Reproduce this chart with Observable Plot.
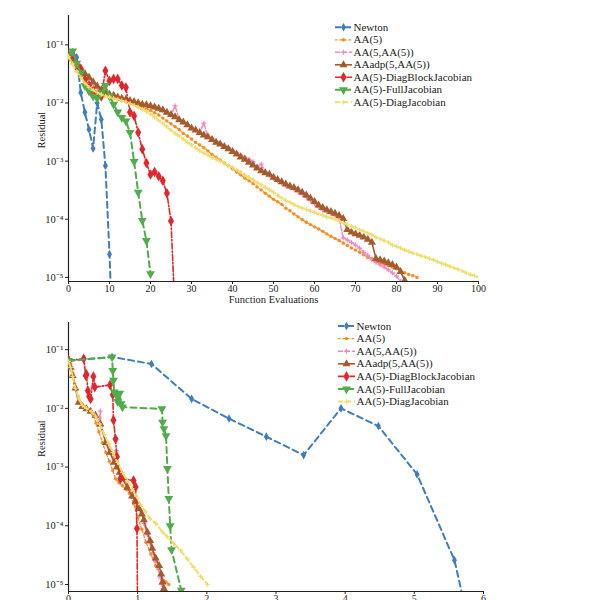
<!DOCTYPE html>
<html>
<head>
<meta charset="utf-8">
<script src="https://cdn.jsdelivr.net/npm/d3@7"></script>
<script src="https://cdn.jsdelivr.net/npm/@observablehq/plot@0.6"></script>
<style>
  html, body { margin: 0; padding: 0; background: #fff; overflow: hidden; }
  #charts { width: 598px; }
  #charts svg { display: block; }
</style>
</head>
<body>
<div id="charts"></div>
<script>
// ---- Solver names (legend order = drawing order) ----
const seriesNames = [
  "Newton", "AA(5)", "AA(5,AA(5))", "AAadp(5,AA(5))",
  "AA(5)-DiagBlockJacobian", "AA(5)-FullJacobian", "AA(5)-DiagJacobian"
];
const seriesColors = ["#3d7ebf", "#ff8a1e", "#f585c3", "#a65b2c", "#e3262b", "#50ad4a", "#f0dd6c"];

// ---- Residual after each function evaluation (evaluation 0, 1, 2, ...) ----
const newtonFE = [6.5e-2, 7.5e-2, 6.1e-2, 1.5e-2, 6.9e-3, 3.5e-3, 1.65e-3, 1.0e-2, 5.2e-3, 8.3e-4, 2.5e-5, 3.0e-7];
const aa5FE = [
  6.5e-2, 4.8e-2, 3.5e-2, 2.8e-2, 2.2e-2, 1.9e-2, 1.7e-2, 1.55e-2, 1.4e-2, 1.32e-2,
  1.26e-2, 1.2e-2, 1.15e-2, 1.1e-2, 1.05e-2, 1.0e-2, 9.5e-3, 9.1e-3, 8.5e-3, 7.9e-3,
  7.4e-3, 6.8e-3, 6.2e-3, 5.5e-3, 4.9e-3, 4.4e-3, 3.9e-3, 3.5e-3, 3.0e-3, 2.7e-3,
  2.4e-3, 2.1e-3, 1.9e-3, 1.7e-3, 1.5e-3, 1.3e-3, 1.17e-3, 1.05e-3, 9.3e-4, 8.3e-4,
  7.4e-4, 6.5e-4, 5.8e-4, 5.1e-4, 4.6e-4, 4.1e-4, 3.6e-4, 3.2e-4, 2.8e-4, 2.5e-4,
  2.2e-4, 2.0e-4, 1.8e-4, 1.55e-4, 1.4e-4, 1.23e-4, 1.1e-4, 9.8e-5, 8.9e-5, 8.1e-5,
  7.4e-5, 6.8e-5, 6.2e-5, 5.6e-5, 5.1e-5, 4.7e-5, 4.3e-5, 3.9e-5, 3.55e-5, 3.2e-5,
  2.95e-5, 2.7e-5, 2.45e-5, 2.2e-5, 2.1e-5, 1.95e-5, 1.8e-5, 1.7e-5, 1.6e-5, 1.5e-5,
  1.4e-5, 1.3e-5, 1.2e-5, 1.12e-5, 1.07e-5, 1.0e-5
];
const aa5aa5FE = [
  6.5e-2, 5.5e-2, 4.5e-2, 3.6e-2, 3.0e-2, 2.5e-2, 2.1e-2, 1.8e-2, 1.6e-2, 1.45e-2,
  1.38e-2, 1.32e-2, 1.25e-2, 1.2e-2, 1.15e-2, 1.1e-2, 1.05e-2, 1.0e-2, 9.5e-3, 9.2e-3,
  8.8e-3, 8.4e-3, 8.0e-3, 7.4e-3, 6.8e-3, 6.2e-3, 8.9e-3, 5.2e-3, 4.7e-3, 4.2e-3,
  3.7e-3, 3.4e-3, 3.1e-3, 4.5e-3, 2.6e-3, 2.4e-3, 2.2e-3, 2.0e-3, 1.85e-3, 1.7e-3,
  1.55e-3, 1.4e-3, 1.28e-3, 1.17e-3, 1.07e-3, 9.8e-4, 7.8e-4, 8.9e-4, 6.5e-4, 5.7e-4,
  5.0e-4, 4.6e-4, 4.2e-4, 3.8e-4, 3.5e-4, 3.3e-4, 3.0e-4, 2.7e-4, 2.4e-4, 2.1e-4,
  1.85e-4, 1.6e-4, 1.45e-4, 1.35e-4, 1.25e-4, 1.15e-4, 1.05e-4, 4.8e-5, 4.4e-5, 4.0e-5,
  3.6e-5, 3.2e-5, 2.7e-5, 2.4e-5, 2.0e-5, 1.8e-5, 1.65e-5, 1.5e-5, 1.35e-5, 1.2e-5,
  1.05e-5, 8.5e-6
];
const aaAdpFE = [
  6.8e-2, 5.75e-2, 4.8e-2, 3.8e-2, 3.2e-2, 2.75e-2, 2.3e-2, 1.95e-2, 1.7e-2, 1.5e-2,
  1.4e-2, 1.35e-2, 1.26e-2, 1.2e-2, 1.15e-2, 1.1e-2, 1.05e-2, 1.0e-2, 9.5e-3, 9.3e-3,
  8.9e-3, 8.5e-3, 8.1e-3, 7.6e-3, 6.9e-3, 6.3e-3, 5.75e-3, 5.1e-3, 4.7e-3, 4.2e-3,
  3.7e-3, 3.4e-3, 3.1e-3, 2.8e-3, 2.6e-3, 2.35e-3, 2.1e-3, 1.95e-3, 1.78e-3, 1.62e-3,
  1.45e-3, 1.32e-3, 1.17e-3, 1.07e-3, 9.5e-4, 8.5e-4, 7.6e-4, 6.8e-4, 6.3e-4, 5.9e-4,
  5.25e-4, 4.8e-4, 4.4e-4, 4.0e-4, 3.7e-4, 3.5e-4, 3.2e-4, 2.9e-4, 2.6e-4, 2.3e-4,
  2.0e-4, 1.74e-4, 1.58e-4, 1.45e-4, 1.35e-4, 1.26e-4, 1.15e-4, 1.02e-4, 6.6e-5, 6.0e-5,
  5.6e-5, 5.25e-5, 4.9e-5, 4.5e-5, 4.0e-5, 2.1e-5, 2.0e-5, 1.9e-5, 1.78e-5, 1.66e-5,
  1.5e-5, 1.26e-5, 8.9e-6
];
const diagBlockFE = [
  6.5e-2, 6.8e-2, 4.1e-2, 3.9e-2, 2.5e-2, 2.0e-2, 1.6e-2, 1.35e-2, 1.3e-2, 3.6e-2,
  2.4e-2, 2.6e-2, 2.6e-2, 2.0e-2, 1.85e-2, 6.9e-3, 6.0e-3, 3.1e-3, 1.6e-3, 9.3e-4,
  5.9e-4, 6.5e-4, 5.5e-4, 4.6e-4, 2.8e-4, 9.3e-5, 2.3e-6
];
const fullJacFE = [
  6.5e-2, 7.8e-2, 4.8e-2, 3.3e-2, 2.0e-2, 1.6e-2, 1.3e-2, 1.2e-2, 1.5e-2, 2.0e-2,
  1.3e-2, 9.5e-3, 7.0e-3, 5.6e-3, 4.9e-3, 3.1e-3, 9.8e-4, 2.9e-4, 9.5e-5, 4.3e-5,
  1.15e-5
];
const diagJacFE = [
  6.3e-2, 4.7e-2, 3.5e-2, 2.75e-2, 2.2e-2, 1.86e-2, 1.66e-2, 1.5e-2, 1.4e-2, 1.32e-2,
  1.26e-2, 1.2e-2, 1.15e-2, 1.1e-2, 1.05e-2, 9.8e-3, 9.1e-3, 8.5e-3, 7.8e-3, 7.1e-3,
  6.5e-3, 5.75e-3, 5.0e-3, 4.5e-3, 3.9e-3, 3.4e-3, 3.0e-3, 2.7e-3, 2.4e-3, 2.1e-3,
  1.9e-3, 1.7e-3, 1.5e-3, 1.38e-3, 1.26e-3, 1.15e-3, 1.07e-3, 1.0e-3, 9.1e-4, 8.3e-4,
  7.8e-4, 7.1e-4, 6.5e-4, 5.75e-4, 5.25e-4, 4.8e-4, 4.3e-4, 3.9e-4, 3.55e-4, 3.2e-4,
  2.9e-4, 2.6e-4, 2.3e-4, 2.1e-4, 1.95e-4, 1.78e-4, 1.66e-4, 1.55e-4, 1.48e-4, 1.38e-4,
  1.32e-4, 1.23e-4, 1.17e-4, 1.1e-4, 1.05e-4, 1.0e-4, 9.3e-5, 8.7e-5, 8.1e-5, 7.6e-5,
  7.1e-5, 6.6e-5, 6.2e-5, 5.75e-5, 5.4e-5, 4.9e-5, 4.6e-5, 4.3e-5, 4.0e-5, 3.6e-5,
  3.4e-5, 3.2e-5, 2.95e-5, 2.8e-5, 2.6e-5, 2.5e-5, 2.35e-5, 2.25e-5, 2.1e-5, 2.0e-5,
  1.86e-5, 1.74e-5, 1.66e-5, 1.55e-5, 1.45e-5, 1.38e-5, 1.3e-5, 1.2e-5, 1.12e-5, 1.07e-5,
  1.0e-5
];

// ---- Residual against run time ----
const timeNewton = [0, 0.63, 1.2, 1.78, 2.32, 2.86, 3.4, 3.94, 4.48, 5.04, 5.58, 6.14];
const resNewton  = [6.5e-2, 7.5e-2, 5.7e-2, 1.45e-2, 6.7e-3, 3.3e-3, 1.6e-3, 1.0e-2, 5.0e-3, 7.5e-4, 2.6e-5, 3.0e-8];

const timeAA5 = [0, 0.03, 0.06, 0.09, 0.11, 0.14, 0.17, 0.20, 0.25, 0.30, 0.35, 0.40, 0.44, 0.49, 0.54,
  0.59, 0.64, 0.68, 0.73, 0.78, 0.83, 0.88, 0.94, 1.0, 1.06, 1.12, 1.19, 1.26, 1.33, 1.41, 1.45];
const resAA5 = [6.5e-2, 5.75e-2, 4.0e-2, 2.6e-2, 2.1e-2, 1.6e-2, 1.26e-2, 1.15e-2, 1.05e-2, 9.5e-3,
  7.9e-3, 5.6e-3, 4.0e-3, 2.6e-3, 1.78e-3, 1.26e-3, 8.7e-4, 6.3e-4, 5.4e-4, 4.8e-4,
  4.2e-4, 3.55e-4, 2.4e-4, 1.4e-4, 8.7e-5, 5.25e-5, 3.3e-5, 2.1e-5, 1.48e-5, 1.1e-5, 1.0e-5];

const timeAA5AA5 = [0, 0.03, 0.06, 0.10, 0.15, 0.20, 0.26, 0.32, 0.39, 0.44, 0.46, 0.47, 0.54, 0.60, 0.66,
  0.69, 0.71, 0.78, 0.85, 0.92, 0.97, 1.02, 1.06, 1.09, 1.14, 1.18, 1.22, 1.26, 1.30, 1.33, 1.35, 1.37];
const resAA5AA5 = [6.5e-2, 4.8e-2, 3.5e-2, 2.2e-2, 1.3e-2, 1.1e-2, 1.0e-2, 9.0e-3, 7.4e-3, 5.5e-3,
  9.0e-3, 5.0e-3, 2.8e-3, 2.0e-3, 1.4e-3, 1.9e-3, 1.1e-3, 7.4e-4, 5.0e-4, 3.6e-4,
  2.8e-4, 2.1e-4, 1.7e-4, 1.1e-4, 7.0e-5, 5.0e-5, 3.5e-5, 2.5e-5, 1.8e-5, 1.3e-5, 1.0e-5, 8.5e-6];

const timeAAadp = [0, 0.03, 0.06, 0.10, 0.15, 0.20, 0.26, 0.32, 0.39, 0.46, 0.54, 0.60, 0.66, 0.70, 0.74,
  0.78, 0.85, 0.92, 0.97, 1.02, 1.06, 1.09, 1.14, 1.18, 1.21, 1.26, 1.31, 1.34, 1.36, 1.38];
const resAAadp = [6.8e-2, 5.0e-2, 3.6e-2, 2.2e-2, 1.26e-2, 1.07e-2, 9.8e-3, 8.9e-3, 7.6e-3, 5.4e-3,
  2.6e-3, 1.78e-3, 1.2e-3, 1.0e-3, 8.1e-4, 6.3e-4, 4.5e-4, 3.2e-4, 2.6e-4, 1.95e-4,
  1.58e-4, 1.26e-4, 7.8e-5, 5.6e-5, 4.1e-5, 2.8e-5, 2.1e-5, 1.5e-5, 1.1e-5, 8.5e-6];

const timeDiagBlock = [0, 0.22, 0.25, 0.26, 0.28, 0.30, 0.32, 0.36, 0.38, 0.60, 0.64, 0.65, 0.68, 0.70, 0.75, 0.94, 0.97, 0.99, 1.0];
const resDiagBlock  = [6.5e-2, 7.0e-2, 3.6e-2, 3.8e-2, 2.0e-2, 1.6e-2, 1.45e-2, 3.5e-2, 2.3e-2, 2.5e-2,
  1.7e-2, 6.3e-3, 3.0e-3, 1.5e-3, 6.3e-4, 5.9e-4, 4.6e-4, 9.0e-5, 2.0e-6];

const timeFullJac = [0, 0.63, 0.64, 0.65, 0.66, 0.69, 0.71, 0.74, 0.76, 0.78, 1.35, 1.36, 1.38, 1.41, 1.43, 1.45, 1.47, 1.49, 1.63];
const resFullJac  = [6.5e-2, 7.5e-2, 4.4e-2, 3.0e-2, 1.9e-2, 1.7e-2, 1.3e-2, 1.8e-2, 1.2e-2, 1.05e-2,
  9.8e-3, 5.8e-3, 4.5e-3, 3.4e-3, 9.4e-4, 2.9e-4, 1.0e-4, 3.9e-5, 8.0e-6];

const timeDiagJac = [0, 0.03, 0.06, 0.10, 0.15, 0.20, 0.26, 0.33, 0.39, 0.45, 0.52, 0.58, 0.64, 0.71, 0.78,
  0.85, 0.92, 0.98, 1.04, 1.11, 1.18, 1.26, 1.36, 1.43, 1.52, 1.62, 1.72, 1.81, 1.91, 2.01];
const resDiagJac  = [6.3e-2, 5.0e-2, 3.5e-2, 2.2e-2, 1.45e-2, 1.12e-2, 1.0e-2, 8.9e-3, 7.4e-3, 5.4e-3,
  3.55e-3, 2.5e-3, 1.78e-3, 1.2e-3, 8.1e-4, 5.9e-4, 4.3e-4, 3.2e-4, 2.3e-4, 1.74e-4,
  1.32e-4, 1.1e-4, 7.8e-5, 6.5e-5, 5.0e-5, 3.8e-5, 2.7e-5, 1.95e-5, 1.38e-5, 1.0e-5];

// ---- Axis ticks ----
const evalTicks = [0, 10, 20, 30, 40, 50, 60, 70, 80, 90, 100];
const timeTicks = [0, 1, 2, 3, 4, 5, 6];
const residualTicks = [1e-5, 1e-4, 1e-3, 1e-2, 1e-1];

// ---- Line and marker style for each solver ----
const seriesStyles = [
  {dash: "6,4", width: 2, symbol: d3.symbolDiamond, r: 2.6},
  {dash: "2.5,2", width: 1.3, symbol: d3.symbolCircle, r: 1.7},
  {dash: "5,2", width: 1.5, symbol: d3.symbolPlus, r: 1.7, hollow: true},
  {dash: null, width: 1.6, symbol: d3.symbolTriangle, r: 3},
  {dash: "6,2,1.5,2", width: 1.6, symbol: d3.symbolDiamond, r: 3.2},
  {dash: "6,4", width: 2, symbol: d3.symbolTriangle, r: 3.3, rotate: 180},
  {dash: "5,3", width: 2, symbol: d3.symbolPlus, r: 1.6, hollow: true}
].map((s, i) => ({...s, color: seriesColors[i]}));

const supDigits = {"-": "\u207B", "0": "\u2070", "1": "\u00B9", "2": "\u00B2", "3": "\u00B3",
  "4": "\u2074", "5": "\u2075", "6": "\u2076", "7": "\u2077", "8": "\u2078", "9": "\u2079"};
const powerLabel = d => "10" + String(Math.round(Math.log10(d))).split("").map(c => supDigits[c]).join("");

const serif = "'Liberation Serif', 'Times New Roman', serif";

function makeChart(cfg) {
  const marks = [
    Plot.ruleX([cfg.xDomain[0]], {stroke: "#222", strokeWidth: 1.2}),
    Plot.ruleY([cfg.yDomain[0]], {stroke: "#222", strokeWidth: 1.2}),
    Plot.axisX({ticks: cfg.xTicks, tickSize: 3, tickPadding: 0, tickFormat: d => String(d), label: null, fontSize: 10}),
    Plot.axisY({ticks: residualTicks, tickSize: 3, tickPadding: 2, tickFormat: powerLabel, label: null, fontSize: 10.5})
  ];
  cfg.series.forEach((s, i) => {
    const st = seriesStyles[i];
    const rows = s.x.map((x, j) => ({x, y: s.y[j]}));
    marks.push(Plot.line(rows, {
      x: "x", y: "y", stroke: st.color, strokeWidth: st.width,
      strokeDasharray: st.dash || undefined, clip: true
    }));
    marks.push(Plot.dot(rows, {
      x: "x", y: "y", symbol: st.symbol, r: st.r, rotate: st.rotate || 0,
      fill: st.hollow ? "none" : st.color, stroke: st.hollow ? st.color : "none",
      strokeWidth: 1.2, clip: true
    }));
  });
  marks.push(Plot.text(["Residual"], {text: d => d, frameAnchor: "left", dx: -27, rotate: -90, fontSize: 10.5}));
  if (cfg.xLabel) marks.push(Plot.text([cfg.xLabel], {text: d => d, frameAnchor: "bottom", dy: 21, fontSize: 10.5}));

  const svg = Plot.plot({
    width: 598,
    height: cfg.height,
    marginTop: cfg.margin[0], marginRight: cfg.margin[1],
    marginBottom: cfg.margin[2], marginLeft: cfg.margin[3],
    style: {fontFamily: serif, fontSize: "10px", color: "#222", background: "#fff"},
    x: {domain: cfg.xDomain},
    y: {type: "log", domain: cfg.yDomain},
    marks
  });

  // Legend block in the upper right of the plotting area
  const L = cfg.legend;
  const g = d3.select(svg).append("g")
    .attr("font-family", serif)
    .attr("font-size", 11)
    .attr("text-anchor", "start")
    .attr("fill", "#222");
  seriesNames.forEach((name, i) => {
    const st = seriesStyles[i];
    const y = L.y0 + i * L.dy;
    g.append("line")
      .attr("x1", L.x0).attr("x2", L.x1).attr("y1", y).attr("y2", y)
      .attr("stroke", st.color).attr("stroke-width", st.width)
      .attr("stroke-dasharray", st.dash);
    g.append("path")
      .attr("d", d3.symbol(st.symbol, Math.PI * st.r * st.r)())
      .attr("transform", `translate(${(L.x0 + L.x1) / 2},${y}) rotate(${st.rotate || 0})`)
      .attr("fill", st.hollow ? "none" : st.color)
      .attr("stroke", st.hollow ? st.color : "none")
      .attr("stroke-width", 1.2);
    g.append("text")
      .attr("x", L.x1 + 1.5).attr("y", y).attr("dy", "0.33em")
      .attr("text-anchor", "start")
      .text(name);
  });
  return svg;
}

const byEvaluation = v => v.map((_, i) => i);

const evalChart = makeChart({
  height: 310,
  margin: [15, 120, 29, 68],
  xDomain: [0, 100],
  yDomain: [8.5e-6, 0.32],
  xTicks: evalTicks,
  xLabel: "Function Evaluations",
  series: [newtonFE, aa5FE, aa5aa5FE, aaAdpFE, diagBlockFE, fullJacFE, diagJacFE]
    .map(v => ({x: byEvaluation(v), y: v})),
  legend: {x0: 335, x1: 352, y0: 27.3, dy: 12.5}
});

const timeChart = makeChart({
  height: 310,
  margin: [12, 115, 29, 68],
  xDomain: [0, 6],
  yDomain: [7.6e-6, 0.29],
  xTicks: timeTicks,
  xLabel: null,
  series: [
    {x: timeNewton, y: resNewton},
    {x: timeAA5, y: resAA5},
    {x: timeAA5AA5, y: resAA5AA5},
    {x: timeAAadp, y: resAAadp},
    {x: timeDiagBlock, y: resDiagBlock},
    {x: timeFullJac, y: resFullJac},
    {x: timeDiagJac, y: resDiagJac}
  ],
  legend: {x0: 338, x1: 355, y0: 16, dy: 12.6}
});

const host = document.getElementById("charts");
host.appendChild(evalChart);
host.appendChild(timeChart);
</script>
</body>
</html>
